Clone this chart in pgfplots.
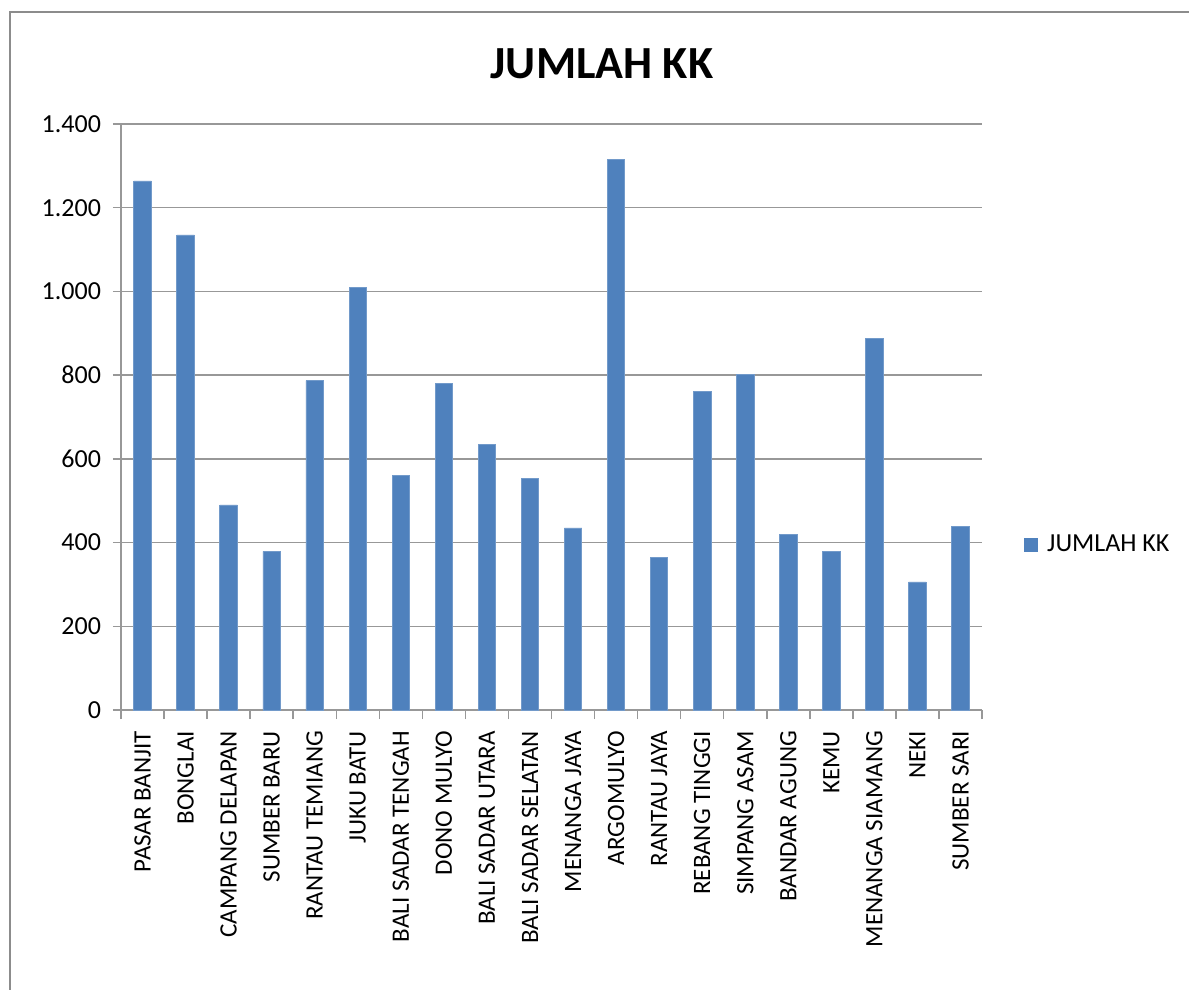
\documentclass[border=0pt]{standalone}
\usepackage{fontspec}
\setmainfont{Carlito}
\usepackage{pgfplots}
\pgfplotsset{compat=1.18}
\usepackage{pgfplotstable}

\definecolor{barblue}{HTML}{4F81BD}
\definecolor{gridgray}{HTML}{989898}
\definecolor{framegray}{HTML}{8C8C8C}

\pgfplotstableread{
idx kk
0  1264
1  1135
2  490
3  379
4  787
5  1010
6  560
7  781
8  634
9  554
10 435
11 1316
12 365
13 762
14 801
15 420
16 379
17 888
18 306
19 438
}\kktable

\begin{document}
\begin{tikzpicture}
\path[use as bounding box] (0,0) rectangle (594.5pt,-495pt);
\draw[framegray, line width=1pt] (5pt,-495pt) -- (5pt,-6pt) -- (594.5pt,-6pt);
\node[font=\bfseries\fontsize{23}{26}\selectfont] at (301pt,-32pt) {JUMLAH KK};
\begin{axis}[
    at={(60.5pt,-62pt)}, anchor=north west,
    scale only axis,
    width=430.5pt, height=293pt,
    ybar, bar width=8.75pt,
    xmin=-0.5, xmax=19.5,
    ymin=0, ymax=1400,
    axis lines=left,
    axis line style={-, gridgray, line width=0.75pt},
    xtick=data,
    xticklabels={PASAR BANJIT, BONGLAI, CAMPANG DELAPAN, SUMBER BARU, RANTAU TEMIANG, JUKU BATU, BALI SADAR TENGAH, DONO MULYO, BALI SADAR UTARA, BALI SADAR SELATAN, MENANGA JAYA, ARGOMULYO, RANTAU JAYA, REBANG TINGGI, SIMPANG ASAM, BANDAR AGUNG, KEMU, MENANGA SIAMANG, NEKI, SUMBER SARI},
    x tick label style={rotate=90, anchor=east, font=\fontsize{12.5}{15}\selectfont, xshift=-3pt},
    major x tick style={draw=none},
    minor xtick={-0.5,0.5,...,19.5},
    minor x tick style={gridgray, line width=0.75pt},
    minor tick length=4.5pt,
    ytick={0,200,...,1400},
    y tick style={gridgray, line width=0.75pt},
    major tick length=4pt,
    tick align=outside,
    y tick label style={font=\fontsize{13}{15}\selectfont, xshift=-2.5pt},
    /pgf/number format/.cd, 1000 sep={.}, assume math mode=true, /pgfplots/.cd,
    ymajorgrids=true,
    major grid style={gridgray, line width=0.75pt},
    legend style={at={(1,0.2816)}, anchor=west, xshift=18pt, draw=none, fill=none,
        font=\fontsize{13}{15}\selectfont},
    legend image code/.code={\fill[barblue] (0pt,-3.25pt) rectangle (6.5pt,3.25pt); \path (9pt,0pt);},
]
\addplot[fill=barblue, draw=barblue!80!white] table[x=idx, y=kk] {\kktable};
\addlegendentry{JUMLAH KK}
\end{axis}
\end{tikzpicture}
\end{document}
